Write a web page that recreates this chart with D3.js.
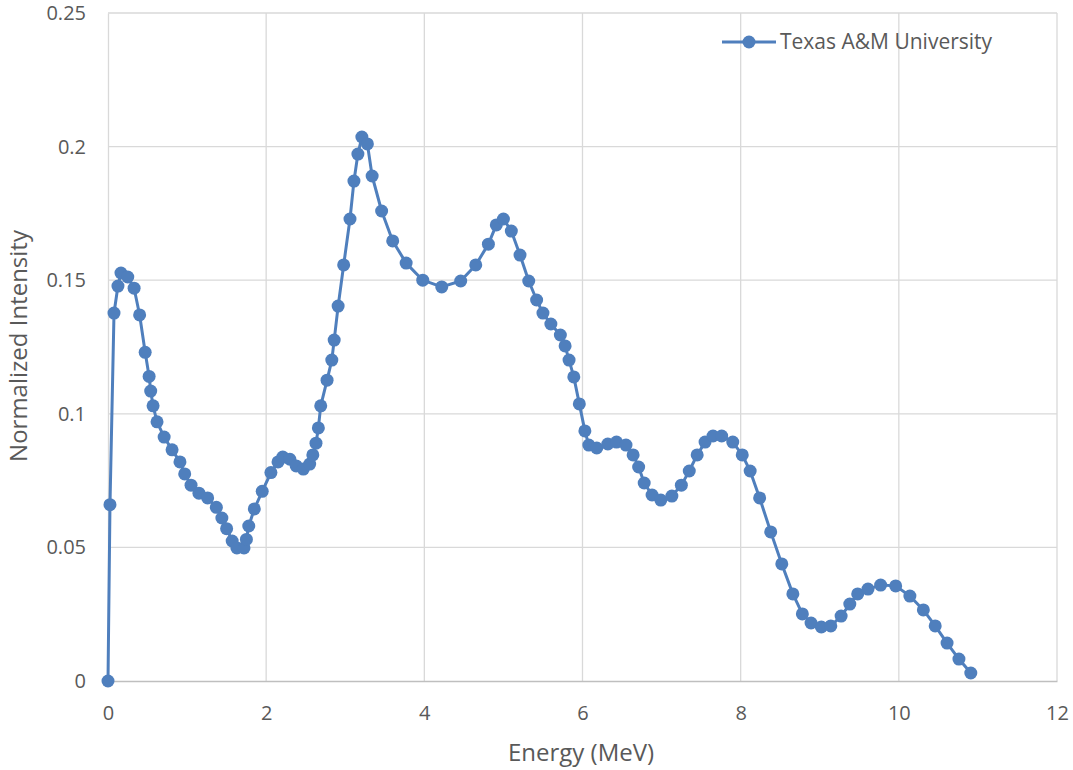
<!DOCTYPE html>
<html>
<head>
<meta charset="utf-8">
<script src="https://cdn.jsdelivr.net/npm/d3@7"></script>
<style>
  body { margin: 0; background: #fff; }
  text { font-family: "Open Sans", "Noto Sans", sans-serif; }
</style>
</head>
<body>
<script>
// values
let energy = [0, 0.025, 0.076, 0.126, 0.164, 0.25, 0.33, 0.40, 0.47, 0.52, 0.54, 0.57, 0.62, 0.71, 0.81, 0.91, 0.97, 1.05, 1.15, 1.26, 1.37, 1.44, 1.50, 1.57, 1.63, 1.72, 1.75, 1.78, 1.85, 1.95, 2.06, 2.15, 2.21, 2.30, 2.38, 2.47, 2.55, 2.59, 2.63, 2.66, 2.69, 2.77, 2.83, 2.86, 2.91, 2.98, 3.06, 3.11, 3.16, 3.21, 3.28, 3.34, 3.46, 3.60, 3.77, 3.98, 4.22, 4.46, 4.65, 4.81, 4.91, 5.0, 5.10, 5.21, 5.32, 5.42, 5.50, 5.60, 5.72, 5.78, 5.83, 5.89, 5.96, 6.03, 6.08, 6.18, 6.32, 6.43, 6.55, 6.64, 6.71, 6.78, 6.88, 6.99, 7.13, 7.25, 7.35, 7.45, 7.55, 7.65, 7.76, 7.90, 8.02, 8.12, 8.24, 8.38, 8.52, 8.66, 8.78, 8.89, 9.02, 9.14, 9.27, 9.38, 9.48, 9.61, 9.77, 9.96, 10.14, 10.31, 10.46, 10.61, 10.76, 10.91];
let intensity = [0, 0.066, 0.1377, 0.1478, 0.1527, 0.1512, 0.147, 0.137, 0.123, 0.114, 0.1085, 0.103, 0.097, 0.0913, 0.0865, 0.082, 0.0775, 0.0733, 0.0703, 0.0685, 0.065, 0.061, 0.057, 0.0524, 0.0498, 0.0498, 0.053, 0.058, 0.0644, 0.071, 0.078, 0.082, 0.0838, 0.083, 0.0805, 0.0793, 0.0812, 0.0846, 0.089, 0.0947, 0.103, 0.1126, 0.1201, 0.1276, 0.1403, 0.1557, 0.1729, 0.1871, 0.1972, 0.2036, 0.201, 0.189, 0.1759, 0.1647, 0.1564, 0.150, 0.1475, 0.1497, 0.1557, 0.1635, 0.1707, 0.1729, 0.1684, 0.1594, 0.1497, 0.1426, 0.1377, 0.1336, 0.1295, 0.1254, 0.1201, 0.1138, 0.1037, 0.0936, 0.0883, 0.0872, 0.0887, 0.0894, 0.0883, 0.0846, 0.0801, 0.0741, 0.0696, 0.0677, 0.0692, 0.0733, 0.0786, 0.0846, 0.0894, 0.0917, 0.0917, 0.0894, 0.0846, 0.0786, 0.0685, 0.0558, 0.0438, 0.0326, 0.0251, 0.0217, 0.0202, 0.0206, 0.0243, 0.0288, 0.0326, 0.0344, 0.0359, 0.0356, 0.0318, 0.0266, 0.0206, 0.0142, 0.0082, 0.003];
let xTicks = [0, 2, 4, 6, 8, 10, 12];
let yTicks = [0, 0.05, 0.1, 0.15, 0.2, 0.25];
let seriesName = "Texas A&M University";

let canvasW = 1073;
let canvasH = 770;
let plotL = 108, plotR = 1057, plotT = 13, plotB = 681;
let blue = "#4f7fbd";
let grey = "#595959";

let xScale = d3.scaleLinear().domain([0, 12]).range([plotL, plotR]);
let yScale = d3.scaleLinear().domain([0, 0.25]).range([plotB, plotT]);

let svg = d3.select("body")
  .append("svg")
    .attr("width", canvasW)
    .attr("height", canvasH);

// gridlines
svg.append("g")
  .selectAll("line")
  .data(xTicks.slice(1))
  .enter()
    .append("line")
      .attr("x1", d => xScale(d)).attr("x2", d => xScale(d))
      .attr("y1", plotT).attr("y2", plotB)
      .attr("stroke", "#d9d9d9").attr("stroke-width", 1.3);

svg.append("g")
  .selectAll("line")
  .data(yTicks.slice(1))
  .enter()
    .append("line")
      .attr("x1", plotL).attr("x2", plotR)
      .attr("y1", d => yScale(d)).attr("y2", d => yScale(d))
      .attr("stroke", "#d9d9d9").attr("stroke-width", 1.3);

// axes
const xAxis = svg.append("g")
  .attr("transform", "translate(0," + plotB + ")")
  .call(d3.axisBottom(xScale).tickValues(xTicks).tickSize(0).tickPadding(25).tickFormat(d3.format("d")));
xAxis.select(".domain").attr("stroke", "#bfbfbf").attr("stroke-width", 1.3);

const yAxis = svg.append("g")
  .attr("transform", "translate(" + plotL + ",0)")
  .call(d3.axisLeft(yScale).tickValues(yTicks).tickSize(0).tickPadding(22).tickFormat(d => d === 0 ? "0" : String(d)));
yAxis.select(".domain").attr("stroke", "#d9d9d9").attr("stroke-width", 1.3);

svg.selectAll(".tick text")
  .attr("fill", grey)
  .attr("font-size", "20px")
  .attr("font-family", "'Open Sans', sans-serif");

// axis titles
svg.append("text")
  .attr("x", 581)
  .attr("y", 761)
  .attr("text-anchor", "middle")
  .attr("font-size", "24px")
  .attr("fill", grey)
  .text("Energy (MeV)");

svg.append("text")
  .attr("text-anchor", "middle")
  .attr("font-size", "24px")
  .attr("fill", grey)
  .attr("transform", "translate(27," + 346 + ") rotate(-90)")
  .text("Normalized Intensity");

// series
let points = energy.map((e, i) => ({ e: e, v: intensity[i] }));

let line = d3.line()
  .x(d => xScale(d.e))
  .y(d => yScale(d.v));

svg.append("path")
  .datum(points)
  .attr("fill", "none")
  .attr("stroke", blue)
  .attr("stroke-width", 3)
  .attr("stroke-linejoin", "round")
  .attr("d", line);

svg.append("g")
  .selectAll("circle")
  .data(points)
  .enter()
    .append("circle")
      .attr("cx", d => xScale(d.e))
      .attr("cy", d => yScale(d.v))
      .attr("r", 6.5)
      .attr("fill", blue);

// legend
const legend = svg.append("g").attr("transform", "translate(722,42)");
legend.append("line")
  .attr("x1", 0).attr("x2", 54)
  .attr("y1", 0).attr("y2", 0)
  .attr("stroke", blue).attr("stroke-width", 3);
legend.append("circle")
  .attr("cx", 27).attr("cy", 0).attr("r", 6.5)
  .attr("fill", blue);
legend.append("text")
  .attr("x", 58)
  .attr("y", 7)
  .attr("font-size", "21px")
  .attr("fill", grey)
  .text(seriesName);
</script>
</body>
</html>
